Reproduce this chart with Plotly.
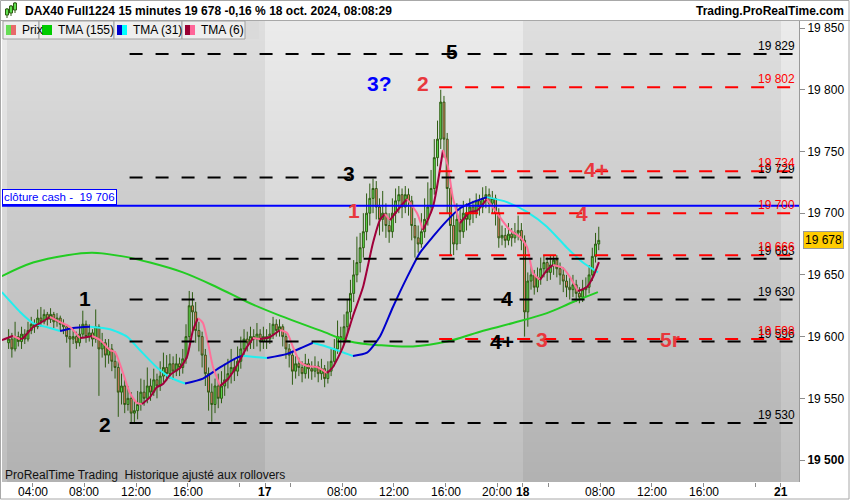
import plotly.graph_objects as go

# ---- values (DAX40 Full1224, 15 minute bars from 16 oct 02:00) ----
FIRST_OPEN = 19595

CLOSE = [
    # 16 oct
    19598, 19590, 19600, 19596, 19602, 19598, 19605, 19610, 19608, 19615,
    19612, 19618, 19614, 19618, 19612, 19615, 19610, 19608, 19600, 19598,
    19600, 19595, 19602, 19610, 19600, 19603, 19598, 19608, 19590, 19595,
    19585, 19590, 19580, 19575, 19555, 19560, 19545, 19550, 19538, 19540,
    19545, 19555, 19550, 19560, 19555, 19565, 19560, 19568, 19575, 19570,
    19578, 19572, 19578, 19575, 19582, 19600, 19625, 19620, 19605, 19600,
    19585, 19570, 19555, 19545, 19560, 19550, 19560, 19565, 19570, 19575,
    19572, 19580, 19590, 19598, 19595, 19600, 19598, 19602, 19596, 19600,
    # 17 oct
    19598, 19602, 19610, 19605, 19608, 19600, 19590, 19585, 19572, 19578,
    19575, 19570, 19578, 19574, 19572, 19576, 19570, 19574, 19566, 19572,
    19580, 19590, 19600, 19598, 19608, 19620, 19635, 19650, 19660, 19672,
    19685, 19700, 19712, 19720, 19705, 19695, 19700, 19690, 19685, 19700,
    19710, 19715, 19705, 19715, 19710, 19690, 19680, 19675, 19685, 19695,
    19705, 19720, 19745, 19760, 19790, 19760, 19720, 19690, 19675, 19695,
    19685, 19700, 19695, 19705, 19700, 19710, 19705, 19712, 19715, 19708,
    19712, 19700, 19680, 19682, 19678, 19683, 19680, 19684, 19686, 19678,
    # 18 oct
    19620, 19645, 19650, 19640, 19648, 19655, 19660, 19652, 19658, 19662,
    19655, 19650, 19645, 19640, 19638, 19642, 19635, 19632, 19638, 19640,
    19650, 19665, 19675, 19678,
]

HIGH = [
    19606, 19603, 19612, 19604, 19608, 19606, 19612, 19616, 19614, 19622,
    19624, 19622, 19620, 19623, 19620, 19619, 19617, 19614, 19610, 19606,
    19607, 19604, 19610, 19621, 19613, 19610, 19606, 19622, 19610, 19603,
    19598, 19598, 19594, 19588, 19580, 19570, 19565, 19560, 19555, 19548,
    19556, 19566, 19565, 19575, 19566, 19574, 19570, 19580, 19587, 19585,
    19586, 19584, 19586, 19583, 19590, 19610, 19637, 19636, 19628, 19612,
    19604, 19590, 19575, 19562, 19566, 19570, 19572, 19578, 19582, 19590,
    19582, 19592, 19600, 19606, 19604, 19608, 19606, 19611, 19606, 19608,
    19606, 19611, 19616, 19614, 19614, 19610, 19603, 19594, 19588, 19584,
    19583, 19580, 19586, 19582, 19580, 19584, 19580, 19582, 19577, 19580,
    19590, 19598, 19613, 19608, 19618, 19630, 19646, 19662, 19681, 19684,
    19700, 19716, 19724, 19728, 19726, 19712, 19718, 19708, 19700, 19712,
    19720, 19722, 19720, 19722, 19720, 19714, 19696, 19690, 19700, 19712,
    19725, 19735, 19760, 19775, 19800, 19795, 19765, 19730, 19700, 19708,
    19705, 19710, 19708, 19712, 19710, 19716, 19715, 19721, 19722, 19720,
    19718, 19715, 19704, 19690, 19688, 19692, 19688, 19692, 19698, 19692,
    19682, 19652, 19658, 19654, 19656, 19664, 19666, 19664, 19666, 19666,
    19666, 19660, 19656, 19650, 19648, 19650, 19646, 19640, 19646, 19648,
    19658, 19672, 19684, 19689,
]

LOW = [
    19590, 19583, 19588, 19592, 19590, 19594, 19596, 19602, 19603, 19606,
    19608, 19610, 19609, 19611, 19607, 19608, 19605, 19602, 19595, 19575,
    19594, 19590, 19592, 19599, 19595, 19596, 19592, 19595, 19552, 19583,
    19575, 19578, 19572, 19566, 19535, 19545, 19538, 19540, 19530, 19530,
    19533, 19540, 19544, 19546, 19548, 19552, 19550, 19556, 19563, 19564,
    19566, 19565, 19568, 19568, 19570, 19578, 19596, 19605, 19595, 19588,
    19575, 19560, 19540, 19531, 19538, 19542, 19546, 19552, 19558, 19562,
    19564, 19568, 19574, 19584, 19588, 19590, 19590, 19592, 19588, 19590,
    19590, 19594, 19598, 19600, 19600, 19592, 19582, 19575, 19561, 19566,
    19568, 19563, 19566, 19566, 19565, 19567, 19563, 19565, 19559, 19562,
    19568, 19576, 19586, 19588, 19594, 19602, 19614, 19628, 19644, 19652,
    19664, 19678, 19690, 19700, 19695, 19682, 19685, 19680, 19676, 19680,
    19692, 19700, 19696, 19700, 19698, 19678, 19664, 19668, 19672, 19680,
    19690, 19700, 19715, 19738, 19752, 19745, 19700, 19666, 19666, 19670,
    19675, 19680, 19686, 19690, 19692, 19696, 19698, 19700, 19704, 19700,
    19700, 19690, 19672, 19674, 19672, 19674, 19673, 19676, 19678, 19670,
    19600, 19608, 19638, 19634, 19636, 19642, 19648, 19645, 19646, 19650,
    19648, 19642, 19636, 19632, 19630, 19632, 19628, 19627, 19628, 19632,
    19635, 19645, 19660, 19670,
]

# moving averages, time in trading hours since 16 oct 02:00
TMA155_T = [-0.4, 2.02, 4.65, 6.59, 8.99, 11.09, 13.64, 16.28, 18.84, 21.16,
            24.26, 26.59, 28.91, 31.47, 34.11, 36.67, 39.22, 41.86, 43.88, 45.81]
TMA155_V = [19649, 19660, 19666, 19668, 19665, 19660, 19652, 19640, 19627, 19617,
            19605, 19596, 19593, 19592, 19596, 19604, 19611, 19619, 19628, 19636]

TMA31_T = [-0.4, 1.01, 2.02, 3.33, 4.11, 5.12, 6.43, 7.98, 9.30, 10.31,
           11.63, 12.64, 13.80, 15.19, 16.51, 17.83, 18.29, 19.22, 20.16, 21.71,
           22.95, 23.72, 25.04, 26.82, 27.91, 28.91, 29.92, 31.01, 32.02, 33.02,
           34.11, 35.12, 36.12, 37.21, 38.76, 40.31, 41.86, 43.41, 44.65, 45.81]
TMA31_V = [19636, 19620, 19611, 19607, 19604.5, 19607, 19608, 19606, 19600, 19589,
           19575, 19567, 19562, 19566, 19575, 19583, 19584.5, 19583.5, 19582.6, 19586,
           19591.5, 19595, 19591, 19584.3, 19587, 19600, 19624, 19648, 19668, 19681,
           19694, 19704, 19709, 19713, 19709, 19701, 19689, 19672, 19660, 19652]

TMA6_T = [-0.4, 0.23, 0.47, 1.01, 1.24, 2.02, 2.56, 3.33, 4.11, 4.88,
          5.66, 6.20, 6.59, 7.21, 7.98, 8.37, 8.99, 9.53, 10.08, 10.47,
          11.09, 11.63, 12.09, 12.64, 13.18, 13.41, 13.95, 14.42, 14.81, 15.19,
          15.58, 15.97, 16.51, 17.05, 17.52, 18.06, 18.60, 19.07, 19.61, 20.39,
          21.16, 21.71, 22.17, 22.71, 23.26, 24.03, 24.81, 25.27, 26.05, 26.82,
          27.60, 28.37, 28.91, 29.30, 29.69, 30.47, 31.01, 31.78, 32.25, 33.02,
          33.80, 34.19, 34.57, 35.12, 35.89, 36.43, 37.21, 37.98, 38.99, 39.77,
          40.31, 40.78, 41.32, 41.86, 42.33, 43.10, 43.64, 44.26, 44.96, 45.43,
          45.89]
TMA6_V = [19597.2, 19599.7, 19600.5, 19598.0, 19598.8, 19607.8, 19611.0, 19615.9, 19611.8, 19607.8,
          19598.8, 19599.7, 19600.5, 19597.2, 19589.1, 19587.5, 19570.5, 19554.3, 19546.2, 19545.4,
          19551.0, 19559.1, 19561.6, 19568.9, 19572.9, 19574.5, 19583.5, 19605.3, 19615.0, 19611.0,
          19594.8, 19575.4, 19560.0, 19564.8, 19571.3, 19581.0, 19591.6, 19598.8, 19598.0, 19599.7,
          19605.3, 19602.9, 19591.6, 19579.4, 19576.2, 19575.4, 19570.5, 19575.4, 19591.6, 19616.7,
          19640.2, 19675.8, 19694.4, 19699.3, 19694.4, 19705.0, 19711.5, 19700.1, 19686.3, 19705.0,
          19751.2, 19737.4, 19712.3, 19692.0, 19700.9, 19702.0, 19711.5, 19700.1, 19686.3, 19680.7,
          19672.6, 19651.5, 19645.8, 19653.9, 19658.0, 19655.6, 19648.3, 19636.9, 19640.2, 19648.3,
          19660.4]

BLACK_LEVELS = [19829, 19729, 19663, 19630, 19596, 19530]
RED_LEVELS = [19802, 19734, 19700, 19666, 19598]
CASH_CLOSE = 19706
LAST_PRICE = 19678

WAVE_TEXT = ["1", "2", "3", "5", "3?", "2", "1", "4+", "4", "4", "4+", "3", "5r"]
WAVE_T = [6.05, 7.6, 26.5, 34.5, 28.9, 32.25, 26.9, 45.7, 44.6, 38.8, 38.4, 41.5, 51.4]
WAVE_V = [19631, 19529, 19732, 19831, 19805, 19805, 19702, 19735, 19700, 19631, 19596, 19598, 19598]

X_TICKS = [2, 6, 10, 14, 18, 20, 22, 26, 30, 34, 38, 40, 42, 46, 50, 54, 58, 60]
X_TICK_TEXT = ["04:00", "08:00", "12:00", "16:00", "", "<b>17</b>", "", "08:00", "12:00",
               "16:00", "20:00", "<b>18</b>", "", "08:00", "12:00", "16:00", "", "<b>21</b>"]
Y_TICKS = [19500, 19550, 19600, 19650, 19700, 19750, 19800, 19850]

# ---- layout constants ----
BARS_PER_DAY = 80
SESSION_HOURS = 20
X_RANGE = [-0.39, 61.4]
Y_RANGE = [19482.2, 19855.7]
DAY_EDGES = [X_RANGE[0], 0, 20, 40, 60, X_RANGE[1]]
BLACK_FROM = 9.5
RED_FROM = 33.5

RED = "#ff0000"
RED_TEXT = "#e8383d"
CANDLE_EDGE = "#2e5c12"
FONT = "Liberation Sans, Arial, sans-serif"


def fmt(v):
    return f"{v:,}".replace(",", " ")


def px(x):  # figure pixel -> paper x
    return (x - 2) / 797


def py(y):  # figure pixel -> paper y
    return (482 - y) / 461


def direction_runs(ts, vs):
    runs = []
    start = 0
    for k in range(1, len(vs) - 1):
        up_before = vs[k] >= vs[k - 1]
        up_after = vs[k + 1] >= vs[k]
        if up_before != up_after:
            runs.append((start, k, up_before))
            start = k
    runs.append((start, len(vs) - 1, vs[-1] >= vs[-2]))
    return runs


fig = go.Figure()

# background: alternating day bands, light at the top, darker at the bottom
ROWS = 46
band_y = [Y_RANGE[0] + (Y_RANGE[1] - Y_RANGE[0]) * k / ROWS for k in range(ROWS + 1)]
band_z = []
for r in range(ROWS):
    f = (r + 0.5) / ROWS
    row = []
    for c in range(len(DAY_EDGES) - 1):
        top, bottom = (236, 189) if c % 2 == 0 else (222, 178)
        row.append(bottom + (top - bottom) * f)
    band_z.append(row)
fig.add_trace(go.Heatmap(
    x=DAY_EDGES, y=band_y, z=band_z, zmin=0, zmax=255,
    colorscale=[[0, "rgb(0,0,0)"], [1, "rgb(255,255,255)"]],
    showscale=False, hoverinfo="skip",
))

bar_t = [(i // BARS_PER_DAY) * SESSION_HOURS + (i % BARS_PER_DAY) * 0.25 + 0.125
         for i in range(len(CLOSE))]
opens = [FIRST_OPEN] + CLOSE[:-1]

fig.add_trace(go.Candlestick(
    x=bar_t, open=opens, high=HIGH, low=LOW, close=CLOSE,
    increasing=dict(line=dict(color=CANDLE_EDGE, width=1), fillcolor="#5fe04f"),
    decreasing=dict(line=dict(color=CANDLE_EDGE, width=1), fillcolor="#f07a70"),
    whiskerwidth=0, name="Prix",
))

fig.add_trace(go.Scatter(
    x=TMA155_T, y=TMA155_V, mode="lines", line=dict(color="#22cc22", width=2, shape="spline"),
    hoverinfo="skip",
))

for ts, vs, up_col, down_col in [
    (TMA31_T, TMA31_V, "#0000cc", "#22eeee"),
    (TMA6_T, TMA6_V, "#a0003a", "#ff7099"),
]:
    for s, e, up in direction_runs(ts, vs):
        fig.add_trace(go.Scatter(
            x=ts[s:e + 1], y=vs[s:e + 1], mode="lines",
            line=dict(color=up_col if up else down_col, width=2, shape="spline", smoothing=0.6),
            hoverinfo="skip",
        ))

shapes = []
annotations = []

for lvl in BLACK_LEVELS:
    shapes.append(dict(type="line", xref="x", yref="y", x0=BLACK_FROM, x1=X_RANGE[1],
                       y0=lvl, y1=lvl, line=dict(color="black", width=2, dash="13px,13px"),
                       layer="above"))
    annotations.append(dict(xref="paper", yref="y", x=px(797), y=lvl, text=fmt(lvl),
                            xanchor="right", yanchor="bottom", showarrow=False, yshift=-1,
                            font=dict(size=12, color="black")))
for lvl in RED_LEVELS:
    shapes.append(dict(type="line", xref="x", yref="y", x0=RED_FROM, x1=X_RANGE[1],
                       y0=lvl, y1=lvl, line=dict(color=RED, width=2, dash="13px,13px"),
                       layer="above"))
    annotations.append(dict(xref="paper", yref="y", x=px(797), y=lvl, text=fmt(lvl),
                            xanchor="right", yanchor="bottom", showarrow=False, yshift=-1,
                            font=dict(size=12, color=RED)))

shapes.append(dict(type="line", xref="paper", yref="y", x0=0, x1=1, y0=CASH_CLOSE, y1=CASH_CLOSE,
                   line=dict(color="#0000ff", width=2), layer="above"))
annotations.append(dict(xref="paper", yref="y", x=0, y=CASH_CLOSE, xanchor="left", yanchor="bottom",
                        text="clôture cash -&nbsp; " + fmt(CASH_CLOSE), showarrow=False,
                        font=dict(size=11.5, color="#0000ff"), bgcolor="white",
                        bordercolor="#0000ff", borderwidth=1, borderpad=1, yshift=1))

annotations.append(dict(xref="paper", yref="y", x=1, y=LAST_PRICE, xanchor="left", yanchor="middle",
                        xshift=4, text=fmt(LAST_PRICE), showarrow=False,
                        font=dict(size=12, color="black"), bgcolor="#ffcc00",
                        bordercolor="#9a9a9a", borderwidth=1, borderpad=1))

wave_colors = ["black", "black", "black", "black", "#0000ff", RED_TEXT, RED_TEXT,
               RED_TEXT, RED_TEXT, "black", "black", RED_TEXT, RED_TEXT]
for txt, t, v, col in zip(WAVE_TEXT, WAVE_T, WAVE_V, wave_colors):
    annotations.append(dict(xref="x", yref="y", x=t, y=v, text=f"<b>{txt}</b>", showarrow=False,
                            xanchor="center", yanchor="middle",
                            font=dict(size=21, color=col, family=FONT)))

# time labels under the tick marks
for t, label in zip(X_TICKS, X_TICK_TEXT):
    if label:
        annotations.append(dict(xref="x", yref="paper", x=t, y=py(492), text=label,
                                xanchor="center", yanchor="middle", showarrow=False,
                                font=dict(size=12, color="black")))

annotations.append(dict(xref="paper", yref="paper", x=px(3), y=py(475), xanchor="left",
                        yanchor="middle", showarrow=False,
                        text="ProRealTime Trading&nbsp; Historique ajusté aux rollovers",
                        font=dict(size=12, color="#111111")))

# header bar
shapes.append(dict(type="rect", xref="paper", yref="paper", x0=px(0), x1=px(850), y0=py(20.5), y1=py(0),
                   fillcolor="white", line=dict(width=0), layer="above"))
shapes.append(dict(type="line", xref="paper", yref="paper", x0=px(0), x1=px(850), y0=py(20.5), y1=py(20.5),
                   line=dict(color="#a8a8a8", width=1), layer="above"))
for cx, top, bot in [(7, 9, 15), (11, 6, 13), (15, 3, 10)]:
    shapes.append(dict(type="line", xref="paper", yref="paper", x0=px(cx), x1=px(cx),
                       y0=py(bot + 3), y1=py(top - 1), line=dict(color=CANDLE_EDGE, width=1), layer="above"))
    shapes.append(dict(type="rect", xref="paper", yref="paper", x0=px(cx - 1.5), x1=px(cx + 1.5),
                       y0=py(bot), y1=py(top), fillcolor="#5fe04f",
                       line=dict(color=CANDLE_EDGE, width=1), layer="above"))
annotations.append(dict(xref="paper", yref="paper", x=px(23), y=py(11), xanchor="left", yanchor="middle",
                        showarrow=False, font=dict(size=12, color="black"),
                        text="<b>DAX40 Full1224 15 minutes 19 678 -0,16 % 18 oct. 2024, 08:08:29</b>"))
annotations.append(dict(xref="paper", yref="paper", x=px(846), y=py(11), xanchor="right", yanchor="middle",
                        showarrow=False, font=dict(size=12, color="black"),
                        text="<b>Trading.ProRealTime.com</b>"))

# legend row
cells = [(3, 39, "Prix", ["#66dd55", "#e86a6a"]),
         (39, 114, "TMA (155)", ["#00cc00", "#00cc00"]),
         (114, 182, "TMA (31)", ["#0000cc", "#00ffff"]),
         (182, 245, "TMA (6)", ["#990033", "#ff6699"])]
shapes.append(dict(type="rect", xref="paper", yref="paper", x0=px(245), x1=px(259), y0=py(39), y1=py(21),
                   fillcolor="#dadada", line=dict(width=0), layer="above"))
for x0, x1, label, cols in cells:
    shapes.append(dict(type="rect", xref="paper", yref="paper", x0=px(x0), x1=px(x1), y0=py(39), y1=py(21),
                       fillcolor="#eeeeee", line=dict(color="#a0a0a0", width=1), layer="above"))
    shapes.append(dict(type="rect", xref="paper", yref="paper", x0=px(x0 + 3), x1=px(x0 + 8), y0=py(35), y1=py(25),
                       fillcolor=cols[0], line=dict(width=0), layer="above"))
    shapes.append(dict(type="rect", xref="paper", yref="paper", x0=px(x0 + 8), x1=px(x0 + 13), y0=py(35), y1=py(25),
                       fillcolor=cols[1], line=dict(width=0), layer="above"))
    annotations.append(dict(xref="paper", yref="paper", x=px(x0 + 17), y=py(30.5), xanchor="left",
                            yanchor="middle", showarrow=False, text=label,
                            font=dict(size=12, color="black")))

# outer frame
shapes.append(dict(type="rect", xref="paper", yref="paper", x0=px(0.5), x1=px(849), y0=py(499), y1=py(0.5),
                   line=dict(color="#a8a8a8", width=1), layer="above"))

fig.update_layout(
    width=850, height=500,
    margin=dict(l=2, r=51, t=21, b=18),
    paper_bgcolor="white", plot_bgcolor="#c8c8c8",
    showlegend=False,
    font=dict(family=FONT, size=12, color="black"),
    shapes=shapes, annotations=annotations,
    hovermode=False,
    boxgap=0.15,
)
fig.update_xaxes(
    range=X_RANGE, tickvals=X_TICKS, showticklabels=False,
    ticks="outside", ticklen=4, tickcolor="#8c8c8c",
    showgrid=False, zeroline=False, showline=False, automargin=False,
    rangeslider=dict(visible=False),
)
fig.update_yaxes(
    side="right", range=Y_RANGE, tickvals=Y_TICKS,
    ticktext=[f"<b>{fmt(v)}</b>" if v == 19500 else fmt(v) for v in Y_TICKS],
    ticks="outside", ticklen=5, tickcolor="#8c8c8c",
    showgrid=False, zeroline=False, showline=True, linecolor="#9a9a9a", automargin=False,
    tickfont=dict(size=12),
)

fig.write_html("out.html", config={"displayModeBar": False},
               post_script="document.body.style.margin='0';")
